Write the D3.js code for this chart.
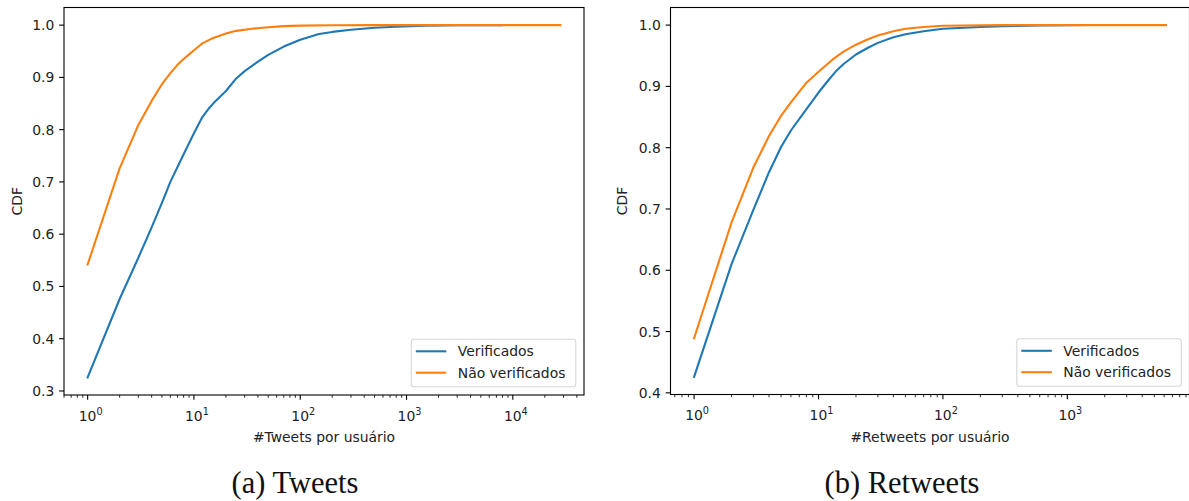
<!DOCTYPE html>
<html>
<head>
<meta charset="utf-8">
<script src="https://cdn.jsdelivr.net/npm/d3@7"></script>
<style>
	html, body { margin: 0; padding: 0; background: #fff; }
	svg { display: block; }
	text { font-family: "DejaVu Sans", sans-serif; fill: #222; }
	.caption { font-family: "Liberation Serif", serif; fill: #111; }
</style>
</head>
<body>
<div id="box"></div>
<script>
// (a) Tweets
const tweetsVerifX = [1, 2, 3, 4, 5, 6, 8, 10, 12, 14, 16, 20, 25, 30, 40, 50, 70, 100, 150, 200, 300, 500, 800, 1500, 3000, 7900];
const tweetsVerifY = [0.326, 0.476, 0.555, 0.613, 0.660, 0.700, 0.753, 0.793, 0.824, 0.842, 0.855, 0.874, 0.898, 0.912, 0.930, 0.943, 0.959, 0.972, 0.983, 0.987, 0.991, 0.995, 0.997, 0.999, 1.0, 1.0];
const tweetsNaoX = [1, 2, 3, 4, 5, 6, 7, 8, 9, 10, 12, 15, 20, 25, 35, 50, 70, 100, 200, 500, 28000];
const tweetsNaoY = [0.542, 0.726, 0.809, 0.855, 0.887, 0.908, 0.924, 0.935, 0.944, 0.952, 0.965, 0.975, 0.984, 0.989, 0.993, 0.996, 0.998, 0.999, 0.9998, 1.0, 1.0];

// (b) Retweets
const retweetsVerifX = [1, 2, 3, 4, 5, 6, 8, 10, 12, 14, 16, 20, 25, 30, 40, 50, 70, 100, 200, 300, 600, 1500];
const retweetsVerifY = [0.426, 0.610, 0.699, 0.760, 0.801, 0.828, 0.863, 0.890, 0.910, 0.926, 0.937, 0.952, 0.963, 0.971, 0.980, 0.985, 0.990, 0.994, 0.997, 0.998, 0.9995, 1.0];
const retweetsNaoX = [1, 2, 3, 4, 5, 6, 8, 10, 13, 16, 20, 25, 30, 40, 50, 70, 100, 300, 6200];
const retweetsNaoY = [0.489, 0.678, 0.768, 0.819, 0.852, 0.874, 0.906, 0.924, 0.944, 0.957, 0.968, 0.977, 0.983, 0.990, 0.994, 0.997, 0.999, 1.0, 1.0];

const seriesNames = ['Verificados', 'Não verificados'];
const seriesColors = ['#1f77b4', '#ff7f0e'];

const tweetsYTicks = [0.3, 0.4, 0.5, 0.6, 0.7, 0.8, 0.9, 1.0];
const retweetsYTicks = [0.4, 0.5, 0.6, 0.7, 0.8, 0.9, 1.0];
const tweetsXTicks = [1, 10, 100, 1000, 10000];
const retweetsXTicks = [1, 10, 100, 1000];

const width = 1189;
const height = 501;

const svg = d3.select('#box').append('svg')
	.attr('width', width)
	.attr('height', height)
	.attr('viewBox', [0, 0, width, height]);

const panels = [
	{
		left: 64, right: 584, top: 7.5, bottom: 395,
		series: [[tweetsVerifX, tweetsVerifY], [tweetsNaoX, tweetsNaoY]],
		yTicks: tweetsYTicks, xTicks: tweetsXTicks,
		xLabel: '#Tweets por usuário', caption: '(a) Tweets', captionX: 295,
		yLabelX: 22,
	},
	{
		left: 670.5, right: 1189.5, top: 7.5, bottom: 394.5,
		series: [[retweetsVerifX, retweetsVerifY], [retweetsNaoX, retweetsNaoY]],
		yTicks: retweetsYTicks, xTicks: retweetsXTicks,
		xLabel: '#Retweets por usuário', caption: '(b) Retweets', captionX: 902,
		yLabelX: 626.5,
	},
];

const fs = 13.9;
const majorLen = 4.86;
const minorLen = 2.78;
const pad = 4.86;

// matplotlib-like 5% margins
function padDomain(lo, hi) {
	const m = (hi - lo) * 0.05;
	return [lo - m, hi + m];
}

for (const p of panels) {
	const allX = p.series.flatMap(s => s[0]);
	const allY = p.series.flatMap(s => s[1]);

	const lx = padDomain(Math.log10(d3.min(allX)), Math.log10(d3.max(allX)));
	const xScale = d3.scaleLog([10 ** lx[0], 10 ** lx[1]], [p.left, p.right]);
	const yScale = d3.scaleLinear(padDomain(d3.min(allY), d3.max(allY)), [p.bottom, p.top]);

	const g = svg.append('g');

	// lines
	p.series.forEach((s, k) => {
		const line = d3.line()
			.x((_, i) => xScale(s[0][i]))
			.y(d => yScale(d));
		g.append('path')
			.attr('fill', 'none')
			.attr('stroke', seriesColors[k])
			.attr('stroke-width', 2.08)
			.attr('stroke-linejoin', 'round')
			.attr('stroke-linecap', 'square')
			.attr('d', line(s[1]));
	});

	// frame
	g.append('rect')
		.attr('x', p.left)
		.attr('y', p.top)
		.attr('width', p.right - p.left)
		.attr('height', p.bottom - p.top)
		.attr('fill', 'none')
		.attr('stroke', '#000')
		.attr('stroke-width', 1.1);

	// y ticks
	for (const t of p.yTicks) {
		const y = yScale(t);
		g.append('line')
			.attr('x1', p.left).attr('x2', p.left - majorLen)
			.attr('y1', y).attr('y2', y)
			.attr('stroke', '#000').attr('stroke-width', 1.1);
		g.append('text')
			.attr('x', p.left - majorLen - pad)
			.attr('y', y + 5)
			.attr('text-anchor', 'end')
			.attr('font-size', fs)
			.text(t.toFixed(1));
	}

	// x minor ticks
	const [d0, d1] = xScale.domain();
	for (let e = Math.floor(Math.log10(d0)); e <= Math.ceil(Math.log10(d1)); e++) {
		for (let k = 2; k <= 9; k++) {
			const v = k * 10 ** e;
			if (v < d0 || v > d1) continue;
			const x = xScale(v);
			g.append('line')
				.attr('x1', x).attr('x2', x)
				.attr('y1', p.bottom).attr('y2', p.bottom + minorLen)
				.attr('stroke', '#000').attr('stroke-width', 0.83);
		}
	}

	// x major ticks
	for (const t of p.xTicks) {
		const x = xScale(t);
		g.append('line')
			.attr('x1', x).attr('x2', x)
			.attr('y1', p.bottom).attr('y2', p.bottom + majorLen)
			.attr('stroke', '#000').attr('stroke-width', 1.1);
		const txt = g.append('text')
			.attr('x', x + 3)
			.attr('y', p.bottom + 25.5)
			.attr('text-anchor', 'middle')
			.attr('font-size', fs);
		txt.append('tspan').text('10');
		txt.append('tspan')
			.attr('dy', -5.6)
			.attr('font-size', 9.7)
			.text(String(Math.round(Math.log10(t))));
	}

	// axis labels
	g.append('text')
		.attr('x', (p.left + p.right) / 2)
		.attr('y', 442)
		.attr('text-anchor', 'middle')
		.attr('font-size', fs)
		.text(p.xLabel);

	g.append('text')
		.attr('transform', `translate(${p.yLabelX},${(p.top + p.bottom) / 2}) rotate(-90)`)
		.attr('text-anchor', 'middle')
		.attr('font-size', fs)
		.text('CDF');

	// legend
	const lw = 164.5;
	const lh = 47.5;
	const lx0 = p.right - 8.2 - lw;
	const ly0 = p.bottom - 8.2 - lh;
	g.append('rect')
		.attr('x', lx0).attr('y', ly0)
		.attr('width', lw).attr('height', lh)
		.attr('rx', 2.8)
		.attr('fill', '#fff')
		.attr('fill-opacity', 0.8)
		.attr('stroke', '#d6d6d6')
		.attr('stroke-width', 1.1);
	seriesNames.forEach((name, k) => {
		const y = ly0 + 12 + k * 21.4;
		g.append('line')
			.attr('x1', lx0 + 4.5).attr('x2', lx0 + 35)
			.attr('y1', y).attr('y2', y)
			.attr('stroke', seriesColors[k])
			.attr('stroke-width', 2.08);
		g.append('text')
			.attr('x', lx0 + 46.5)
			.attr('y', y + 5)
			.attr('font-size', fs)
			.text(name);
	});

	// caption
	svg.append('text')
		.attr('class', 'caption')
		.attr('x', p.captionX)
		.attr('y', 493)
		.attr('text-anchor', 'middle')
		.attr('font-size', 30.5)
		.text(p.caption);
}
</script>
</body>
</html>
